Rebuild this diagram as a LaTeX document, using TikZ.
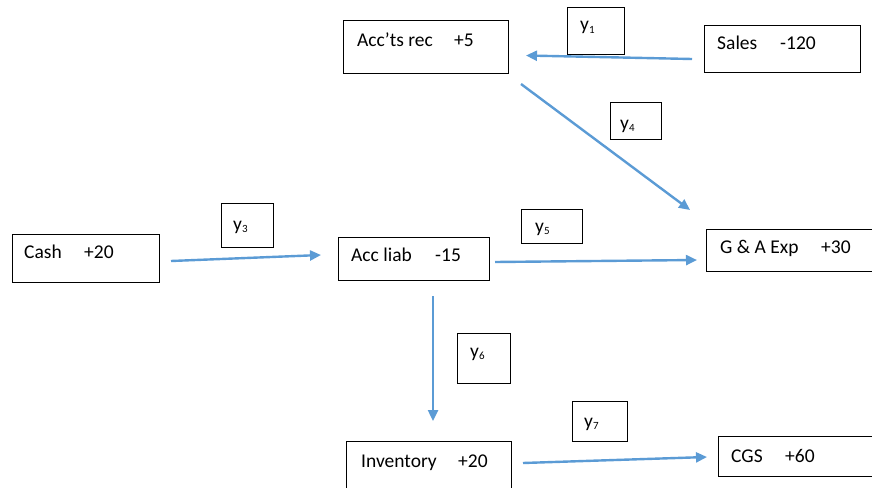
\documentclass[tikz,border=0pt]{standalone}
\usepackage{fontspec}
\setmainfont{Carlito}
\usetikzlibrary{arrows.meta}
\definecolor{flowblue}{RGB}{91,155,213}
\tikzset{
  box/.style={draw=black, line width=1.1pt, inner sep=0pt, anchor=north west},
  lbl/.style={anchor=base west, inner sep=0pt, font=\fontsize{19.5}{22}\selectfont},
  flow/.style={draw=flowblue, line width=2.4pt, -{Triangle[length=11pt,width=10pt]}},
}
\newcommand{\ylab}[1]{y{\fontsize{11}{11}\selectfont\raisebox{-2pt}{#1}}}
\begin{document}
\begin{tikzpicture}[x=1pt,y=-1pt]
\useasboundingbox (0,0) rectangle (872,487);
\clip (0,0) rectangle (872,487);

% account boxes
\node[box, minimum width=165pt, minimum height=53pt] (ar)   at (343,20) {};
\node[box, minimum width=156pt, minimum height=47pt] (sal)  at (704,25) {};
\node[box, minimum width=147pt, minimum height=48pt] (cash) at (12,234) {};
\node[box, minimum width=151pt, minimum height=43pt] (al)   at (338,237) {};
\node[box, minimum width=200pt, minimum height=42pt] (ga)   at (706,229) {};
\node[box, minimum width=165pt, minimum height=60pt] (inv)  at (346,441) {};
\node[box, minimum width=200pt, minimum height=40pt] (cgs)  at (718,436) {};

% account texts
\node[lbl] (tar)   at (357,47)  {\makebox[97pt][l]{Acc’ts rec}+5};
\node[lbl] (tsal)  at (717,49)  {\makebox[63pt][l]{Sales}-120};
\node[lbl] (tcash) at (24,258)  {\makebox[60pt][l]{Cash}+20};
\node[lbl] (tal)   at (351,261) {\makebox[84pt][l]{Acc liab}-15};
\node[lbl] (tga)   at (720,253) {\makebox[101pt][l]{G \& A Exp}+30};
\node[lbl] (tinv)  at (361,467) {\makebox[97pt][l]{Inventory}+20};
\node[lbl] (tcgs)  at (731,462) {\makebox[54pt][l]{CGS}+60};

% y boxes
\node[box, minimum width=57pt, minimum height=47pt] (b1) at (567,7)   {};
\node[box, minimum width=52pt, minimum height=44pt] (b3) at (221,203) {};
\node[box, minimum width=51pt, minimum height=37pt] (b4) at (610,102) {};
\node[box, minimum width=61pt, minimum height=34pt] (b5) at (521,209) {};
\node[box, minimum width=53pt, minimum height=50pt] (b6) at (457,333) {};
\node[box, minimum width=55pt, minimum height=40pt] (b7) at (572,401) {};

\node[lbl] (y1) at (580,31)  {\ylab{1}};
\node[lbl] (y3) at (233,230) {\ylab{3}};
\node[lbl] (y4) at (620,129) {\ylab{4}};
\node[lbl] (y5) at (535,232) {\ylab{5}};
\node[lbl] (y6) at (470,357) {\ylab{6}};
\node[lbl] (y7) at (584,427) {\ylab{7}};

% connector end points
\coordinate (s1) at (692,59);  \coordinate (e1) at (526,55.5);
\coordinate (s2) at (521,84);  \coordinate (e2) at (690,210);
\coordinate (s3) at (171,261); \coordinate (e3) at (321,255);
\coordinate (s4) at (495,262); \coordinate (e4) at (697,260);
\coordinate (s5) at (433,296); \coordinate (e5) at (433,421);
\coordinate (s6) at (523,463); \coordinate (e6) at (707,457);

\draw[flow] (s1) -- (e1);
\draw[flow] (s2) -- (e2);
\draw[flow] (s3) -- (e3);
\draw[flow] (s4) -- (e4);
\draw[flow] (s5) -- (e5);
\draw[flow] (s6) -- (e6);
\end{tikzpicture}
\end{document}
